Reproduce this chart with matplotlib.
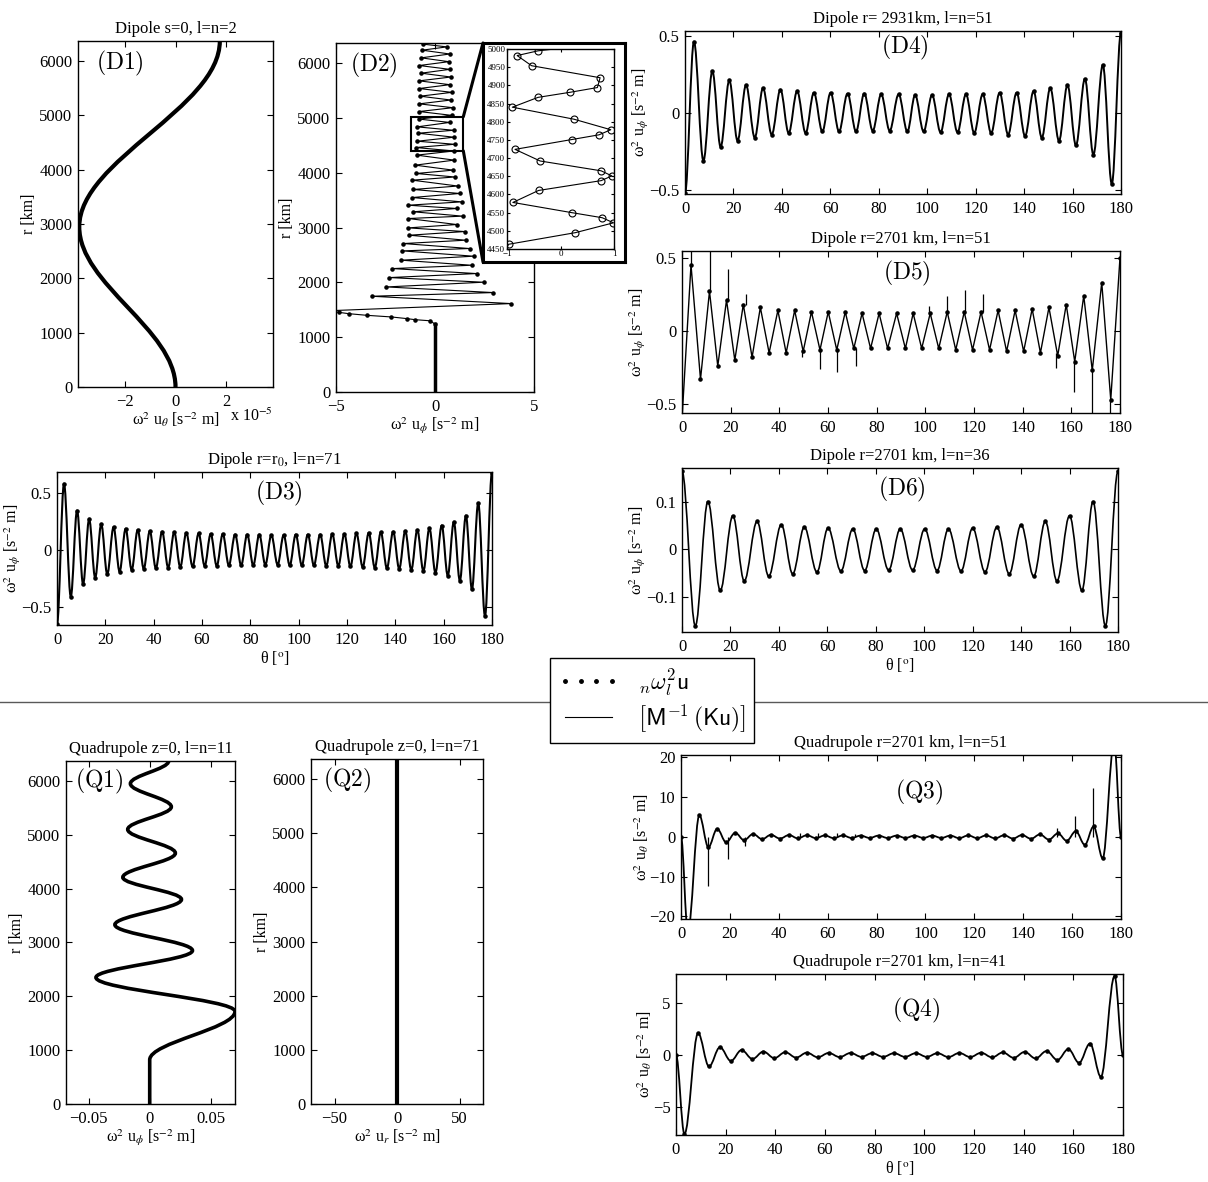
import matplotlib

matplotlib.use("Agg")
import matplotlib.pyplot as plt
import numpy as np
from matplotlib.lines import Line2D
from matplotlib.patches import ConnectionPatch, PathPatch, Rectangle
from matplotlib.path import Path
from matplotlib.ticker import FuncFormatter

# ---------------- data ----------------
# D1: dipole s=0, l=n=2 (u_theta in units of 1e-5), extrema along r
d1_r = [0, 2950, 6371]
d1_u = [0.0, -3.8, 1.75]

# D2: zig-zag samples of u_phi along r
d2_core_r = [0, 1240]
d2_core_u = [0.0, 0.0]
d2_r = [1240, 1300, 1320, 1340, 1370, 1400, 1430, 1455, 1480,
        1614, 1748, 1815, 1918, 2004, 2089, 2162, 2253, 2314, 2406,
        2479, 2576, 2619, 2710, 2771, 2862, 2929, 2996, 3057, 3167,
        3210, 3290, 3350, 3410, 3471, 3550, 3624, 3697, 3760, 3867,
        3925, 3989, 4050, 4141, 4233, 4324, 4400, 4463, 4522, 4578,
        4651, 4724, 4778, 4840, 4921, 4982, 5050, 5120, 5190, 5260,
        5330, 5400, 5470, 5540, 5610, 5680, 5750, 5820, 5890, 5960,
        6030, 6100, 6170, 6240, 6300, 6350]
d2_u = [0.0, -0.25, -1.0, -1.43, -2.2, -3.45, -4.36, -4.87, -5.6,
        3.85, -3.2, 2.95, -2.45, 2.45, -2.3, 2.1, -2.15, 1.85, -1.7,
        1.95, -1.65, 1.75, -1.6, 1.55, -1.3, 1.5, -1.35, 1.1, -1.35,
        1.4, -1.1, 1.1, -1.35, 1.35, -1.15, 1.25, -1.1, 1.15, -1.15,
        1.0, -0.95, 0.92, -1.0, 0.97, -0.92, 0.95, -0.97, 0.99, -0.89,
        0.96, -0.85, 0.94, -0.9, 0.74, -0.81, 0.85, -0.8, 0.9, -0.8,
        0.8, -0.75, 0.85, -0.8, 0.75, -0.8, 0.8, -0.7, 0.75, -0.8,
        0.7, -0.7, 0.75, -0.65, 0.6, -0.6]

# D2 inset samples
ins_r = [4440, 4463, 4495, 4522, 4536, 4550, 4578, 4611, 4638, 4651,
         4665, 4692, 4724, 4751, 4764, 4778, 4807, 4840, 4867, 4881,
         4894, 4921, 4954, 4982, 4995, 5010]
ins_u = [-1.05, -0.97, 0.28, 0.99, 0.78, 0.21, -0.89, -0.41, 0.76, 0.96,
         0.76, -0.38, -0.85, 0.21, 0.72, 0.94, 0.25, -0.9, -0.42, 0.18,
         0.69, 0.74, -0.54, -0.81, -0.42, 0.5]
zoom_u = (-1.21, 1.43)
zoom_r = (4403, 5025)

# D3: dipole r=r0, l=n=71 (extrema in theta)
d3_theta = [0,
            2.9, 5.7, 8.3, 10.8, 13.3, 15.8, 18.3, 20.8, 23.4, 25.9,
            28.4, 30.9, 33.4, 35.9, 38.4, 40.9, 43.5, 46.0, 48.5, 51.0,
            53.5, 56.1, 58.6, 61.1, 63.6, 66.1, 68.6, 71.1, 73.7, 76.2,
            78.7, 81.2, 83.7, 86.2, 88.7,
            91.3, 93.8, 96.3, 98.8, 101.3, 103.8, 106.3, 108.9, 111.4, 113.9,
            116.4, 118.9, 121.4, 123.9, 126.5, 129.0, 131.5, 134.0, 136.5, 139.1,
            141.6, 144.1, 146.6, 149.1, 151.6, 154.1, 156.6, 159.2, 161.7, 164.2,
            166.7, 169.2, 171.7, 174.3, 177.1,
            180]
d3_u = [-0.65,
        0.58, -0.41, 0.345, -0.30, 0.27, -0.245, 0.226, -0.214, 0.2, -0.19,
        0.185, -0.175, 0.175, -0.165, 0.165, -0.16, 0.16, -0.155, 0.155, -0.15,
        0.15, -0.145, 0.145, -0.14, 0.14, -0.14, 0.14, -0.135, 0.135, -0.135,
        0.135, -0.135, 0.135, -0.13, 0.13,
        -0.13, 0.13, -0.135, 0.135, -0.135, 0.135, -0.135, 0.135, -0.14, 0.14,
        -0.14, 0.14, -0.145, 0.145, -0.15, 0.15, -0.155, 0.155, -0.16, 0.16,
        -0.165, 0.165, -0.175, 0.175, -0.185, 0.19, -0.2, 0.214, -0.226, 0.245,
        -0.27, 0.30, -0.345, 0.41, -0.58,
        0.68]

# D4 / D5: l=n=51 (extrema in theta)
theta_l51 = [0, 3.7, 7.6, 11.3, 14.7, 18.3, 21.7, 25.2, 28.8, 32.2,
             35.8, 39.4, 42.8, 46.3, 49.8, 53.2, 56.7, 60.1, 63.6, 67.1,
             70.6, 74.0, 77.5, 81.0, 84.5, 88.2, 91.8, 95.0, 98.5, 102.0,
             105.5, 109.0, 112.5, 116.0, 119.4, 122.9, 126.4, 129.9, 133.4, 136.9,
             140.4, 143.9, 147.3, 150.8, 154.4, 157.9, 161.4, 165.1, 168.6, 172.5,
             176.2, 180]
d4_u = [-0.52, 0.46, -0.31, 0.27, -0.22, 0.21, -0.18, 0.18, -0.16, 0.16,
        -0.14, 0.15, -0.13, 0.14, -0.13, 0.13, -0.12, 0.13, -0.12, 0.125,
        -0.12, 0.125, -0.115, 0.12, -0.115, 0.12, -0.12, 0.115, -0.12, 0.115,
        -0.125, 0.12, -0.125, 0.12, -0.13, 0.12, -0.13, 0.13, -0.14, 0.13,
        -0.15, 0.14, -0.16, 0.16, -0.18, 0.18, -0.21, 0.22, -0.27, 0.31,
        -0.46, 0.52]
d5_u = [-0.6, 0.45, -0.33, 0.27, -0.24, 0.21, -0.2, 0.18, -0.18, 0.16,
        -0.15, 0.14, -0.15, 0.14, -0.14, 0.13, -0.13, 0.13, -0.13, 0.13,
        -0.12, 0.12, -0.12, 0.12, -0.12, 0.12, -0.12, 0.12, -0.12, 0.12,
        -0.12, 0.13, -0.13, 0.13, -0.13, 0.13, -0.13, 0.14, -0.14, 0.14,
        -0.14, 0.15, -0.15, 0.16, -0.17, 0.18, -0.21, 0.24, -0.27, 0.33,
        -0.47, 0.5]
d5_spike_theta = [3.8, 11.4, 19.0, 26.5, 49.2, 56.6, 63.9, 71.6,
                  101.6, 109.1, 116.5, 123.8, 153.7, 161.1, 168.6, 175.9]
d5_spike_base = [0.45, 0.27, 0.21, 0.18, -0.13, -0.12, -0.12, -0.12,
                 0.12, 0.12, 0.12, 0.13, -0.15, -0.2, -0.27, -0.47]
d5_spike_tip = [0.62, 0.6, 0.42, 0.25, -0.18, -0.26, -0.28, -0.24,
                0.17, 0.24, 0.28, 0.25, -0.25, -0.42, -0.6, -0.62]

# D6: l=n=36
d6_theta = [0, 5.5, 10.7, 15.8, 21.0, 25.7, 31.0, 35.8, 41.0, 45.7,
            50.5, 55.7, 60.3, 65.6, 70.5, 75.4, 80.2, 85.3, 90.1, 95.2,
            100.2, 105.3, 110.0, 115.2, 120.0, 125.1, 130.0, 135.1, 140.0, 145.2,
            150.0, 154.8, 160.0, 165.1, 169.7, 174.8, 180]
d6_u = [0.165, -0.162, 0.101, -0.087, 0.071, -0.067, 0.059, -0.057, 0.052, -0.052,
        0.047, -0.048, 0.045, -0.046, 0.043, -0.045, 0.043, -0.044, 0.043, -0.044,
        0.043, -0.045, 0.043, -0.046, 0.045, -0.048, 0.047, -0.052, 0.052, -0.057,
        0.059, -0.067, 0.071, -0.087, 0.101, -0.162, 0.165]

# Q1: quadrupole z=0, l=n=11 (extrema along r)
q1_r = [0, 820, 1720, 2350, 2850, 3330, 3800, 4210, 4660, 5100, 5520, 5950, 6371]
q1_u = [0.0, 0.0, 0.0698, -0.044, 0.035, -0.0285, 0.026, -0.022, 0.021,
        -0.018, 0.0177, -0.0158, 0.0155]

# Q2: quadrupole z=0, l=n=71
q2_r = [0, 6371]
q2_u = [0.0, 0.0]

# Q3: quadrupole r=2701 km, l=n=51
q3_theta = [0, 2.8,
            7.5, 11.2, 14.8, 18.5, 22.2, 25.8, 29.5, 33.2, 36.8, 40.5,
            44.2, 47.8, 51.5, 55.2, 58.8, 62.5, 66.2, 69.8, 73.5, 77.2,
            80.8, 84.5, 88.2,
            91.8, 95.5, 99.2, 102.8, 106.5, 110.2, 113.8, 117.5, 121.2, 124.8,
            128.5, 132.2, 135.8, 139.5, 143.2, 146.8, 150.5, 154.2, 157.8, 161.5,
            165.2, 168.8, 172.5,
            177.2, 180]
q3_u = [0.0, -24.0,
        5.4, -2.6, 2.0, -1.4, 1.0, -0.85, 0.7, -0.6, 0.5, -0.45,
        0.45, -0.4, 0.4, -0.35, 0.35, -0.35, 0.35, -0.3, 0.3, -0.3,
        0.3, -0.3, 0.3,
        -0.3, 0.3, -0.3, 0.3, -0.3, 0.3, -0.35, 0.35, -0.35, 0.35,
        -0.4, 0.4, -0.45, 0.45, -0.5, 0.6, -0.7, 0.85, -1.0, 1.4,
        -2.0, 2.6, -5.4,
        24.0, 0.0]
q3_spike_theta = [11.2, 19.1, 26.2, 48.7, 56.2, 63.7, 71.2, 154.0, 161.2, 168.4]
q3_spike_tip = [-12.3, -5.5, -2.3, 1.0, 1.0, 1.0, 0.8, 2.3, 5.3, 12.3]

# Q4: quadrupole r=2701 km, l=n=41
q4_theta = [0, 3.4,
            8.9, 13.3, 17.7, 22.1, 26.4, 30.8, 35.2, 39.6, 44.0, 48.4,
            52.7, 57.1, 61.5, 65.9, 70.3, 74.7, 79.0, 83.4, 87.8,
            92.2, 96.6, 101.0, 105.3, 109.7, 114.1, 118.5, 122.9, 127.3, 131.6,
            136.0, 140.4, 144.8, 149.2, 153.6, 158.0, 162.3, 166.7, 171.1,
            176.6, 180]
q4_u = [0.0, -7.6,
        2.1, -1.1, 0.75, -0.57, 0.48, -0.38, 0.33, -0.3, 0.27, -0.25,
        0.23, -0.22, 0.2, -0.2, 0.2, -0.18, 0.18, -0.18, 0.18,
        -0.18, 0.18, -0.18, 0.18, -0.2, 0.2, -0.2, 0.22, -0.23, 0.25,
        -0.27, 0.3, -0.33, 0.38, -0.48, 0.57, -0.75, 1.1, -2.1,
        7.6, 0.0]

# ---------------- style ----------------
plt.rcParams.update({
    "font.family": "Liberation Serif",
    "mathtext.fontset": "stix",
    "font.size": 11.5,
    "axes.linewidth": 1.0,
    "xtick.direction": "in",
    "ytick.direction": "in",
    "xtick.top": True,
    "ytick.right": True,
    "xtick.major.size": 4,
    "ytick.major.size": 4,
    "xtick.major.pad": 5,
    "ytick.major.pad": 4,
    "xtick.labelsize": 12,
    "ytick.labelsize": 12,
})

W, H = 1208, 1182
fig = plt.figure(figsize=(W / 100, H / 100), dpi=100)


def box(l, t, r, b):
    return [l / W, 1 - b / H, (r - l) / W, (b - t) / H]


minus_fmt = FuncFormatter(lambda v, p: f"{v:g}".replace("-", "\u2212"))


def smooth_curve(ax, x, y, lw=1.0, swap=False, k=0.36):
    """Cubic Bezier through the extrema with flat tangents at each node."""
    verts = [(x[0], y[0])]
    codes = [Path.MOVETO]
    for x0, y0, x1, y1 in zip(x[:-1], y[:-1], x[1:], y[1:]):
        d = (x1 - x0) * k
        verts += [(x0 + d, y0), (x1 - d, y1), (x1, y1)]
        codes += [Path.CURVE4] * 3
    verts = np.array(verts, dtype=float)
    if swap:
        verts = verts[:, ::-1]
    ax.add_patch(PathPatch(Path(verts, codes), fill=False, ec="k", lw=lw))


def panel_label(ax, text, x, y, ha="left"):
    ax.text(x, y, rf"$\mathrm{{({text})}}$", transform=ax.transAxes, fontsize=17,
            math_fontfamily="cm", ha=ha, va="center", zorder=6)


def theta_panel(ax, theta, vals, ylim, yticks, smooth=True, lw=1.0, ms=4.5):
    if smooth:
        smooth_curve(ax, theta, vals, lw=lw)
    else:
        ax.plot(theta, vals, color="k", lw=lw)
    ax.plot(theta, vals, ls="none", marker=".", ms=ms, color="k")
    ax.set_xlim(0, 180)
    ax.set_xticks(range(0, 181, 20))
    ax.set_ylim(*ylim)
    ax.set_yticks(yticks)
    ax.yaxis.set_major_formatter(minus_fmt)


def r_panel(ax, xlim, xticks):
    ax.set_ylim(0, 6371)
    ax.set_yticks(range(0, 6001, 1000))
    ax.set_xlim(*xlim)
    ax.set_xticks(xticks)
    ax.xaxis.set_major_formatter(minus_fmt)
    ax.set_ylabel("r [km]", labelpad=2)


lab_uth = "ω$^2$ u$_\\theta$ [s$^{-2}$ m]"
lab_uph = "ω$^2$ u$_\\phi$ [s$^{-2}$ m]"
lab_ur = "ω$^2$ u$_r$ [s$^{-2}$ m]"
lab_th = "θ [$^{\\mathrm{o}}$]"
TPAD = 6
TFS = 12
YPAD = -1

# ---- D1
ax = fig.add_axes(box(78, 41, 273, 387))
smooth_curve(ax, d1_r, d1_u, lw=3.0, swap=True)
r_panel(ax, (-3.85, 3.85), [-2, 0, 2])
ax.set_xlabel(lab_uth, labelpad=0)
ax.set_title("Dipole s=0, l=n=2", fontsize=TFS, pad=TPAD)
ax.text(1.0, -0.06, "x 10$^{-5}$", transform=ax.transAxes, ha="right", va="top")
panel_label(ax, "D1", 0.09, 0.935)

# ---- D2
ax2 = fig.add_axes(box(336, 43, 534, 392))
ax2.plot(d2_core_u, d2_core_r, color="k", lw=2.5)
ax2.plot(d2_u, d2_r, color="k", lw=0.8, marker=".", ms=4.5)
r_panel(ax2, (-5, 5), [-5, 0, 5])
ax2.set_xlabel(lab_uph, labelpad=0)
ax2.add_patch(Rectangle((zoom_u[0], zoom_r[0]), zoom_u[1] - zoom_u[0],
                        zoom_r[1] - zoom_r[0], fill=False, ec="k", lw=1.5, zorder=5))
panel_label(ax2, "D2", 0.07, 0.937)

frame = fig.add_axes(box(483, 43, 625, 262), zorder=3)
frame.set_xticks([])
frame.set_yticks([])
for s in frame.spines.values():
    s.set_linewidth(2.2)

ins = fig.add_axes(box(507, 49, 614, 249), zorder=4)
ins.plot(ins_u, ins_r, color="k", lw=0.8, marker="o", ms=5, mfc="none", mew=0.8)
ins.set_xlim(-1, 1)
ins.set_ylim(4450, 5000)
ins.set_xticks([-1, 0, 1])
ins.set_yticks(range(4450, 5001, 50))
ins.xaxis.set_major_formatter(minus_fmt)
ins.tick_params(axis="y", labelsize=6.5, length=2.5, pad=1.2)
ins.tick_params(axis="x", labelsize=6.5, length=2.5, pad=0.5)

for ya, yb in ((zoom_r[1], 1), (zoom_r[0], 0)):
    con = ConnectionPatch(xyA=(zoom_u[1], ya), coordsA=ax2.transData,
                          xyB=(0, yb), coordsB=frame.transAxes, lw=2.2, color="k")
    fig.add_artist(con)

# ---- D3
ax = fig.add_axes(box(57, 472, 492, 625))
theta_panel(ax, d3_theta, d3_u, (-0.66, 0.685), [-0.5, 0, 0.5], lw=1.5)
ax.set_ylabel(lab_uph, labelpad=YPAD)
ax.set_xlabel(lab_th, labelpad=1)
ax.set_title("Dipole r=r$_0$, l=n=71", fontsize=TFS, pad=TPAD)
panel_label(ax, "D3", 0.51, 0.863, ha="center")

# ---- D4
ax = fig.add_axes(box(685, 31, 1121, 194))
theta_panel(ax, theta_l51, d4_u, (-0.525, 0.53), [-0.5, 0, 0.5], lw=1.4)
ax.set_ylabel(lab_uph, labelpad=YPAD)
ax.set_title("Dipole r= 2931km, l=n=51", fontsize=TFS, pad=TPAD)
panel_label(ax, "D4", 0.505, 0.90, ha="center")

# ---- D5
ax = fig.add_axes(box(682, 251, 1120, 413))
theta_panel(ax, theta_l51, d5_u, (-0.56, 0.545), [-0.5, 0, 0.5], smooth=False, lw=1.0)
ax.vlines(d5_spike_theta, d5_spike_base, d5_spike_tip, color="k", lw=0.9)
ax.set_ylabel(lab_uph, labelpad=YPAD)
ax.set_title("Dipole r=2701 km, l=n=51", fontsize=TFS, pad=TPAD)
panel_label(ax, "D5", 0.514, 0.864, ha="center")

# ---- D6
ax = fig.add_axes(box(682, 468, 1118, 632))
theta_panel(ax, d6_theta, d6_u, (-0.175, 0.172), [-0.1, 0, 0.1], lw=1.2)
ax.set_ylabel(lab_uph, labelpad=YPAD)
ax.set_xlabel(lab_th, labelpad=1)
ax.set_title("Dipole r=2701 km, l=n=36", fontsize=TFS, pad=TPAD)
panel_label(ax, "D6", 0.505, 0.872, ha="center")

# ---- Q1
ax = fig.add_axes(box(66, 761, 235, 1104))
smooth_curve(ax, q1_r, q1_u, lw=2.6, swap=True)
r_panel(ax, (-0.0685, 0.0698), [-0.05, 0, 0.05])
ax.set_xlabel(lab_uph, labelpad=0)
ax.set_title("Quadrupole z=0, l=n=11", fontsize=TFS, pad=TPAD)
panel_label(ax, "Q1", 0.053, 0.939)

# ---- Q2
ax = fig.add_axes(box(311, 759, 483, 1104))
ax.plot(q2_u, q2_r, color="k", lw=3.0)
r_panel(ax, (-68.8, 68.7), [-50, 0, 50])
ax.set_xlabel(lab_ur, labelpad=0)
ax.set_title("Quadrupole z=0, l=n=71", fontsize=TFS, pad=TPAD)
panel_label(ax, "Q2", 0.07, 0.939)

# ---- Q3
ax = fig.add_axes(box(681, 755, 1121, 919))
theta_panel(ax, q3_theta, q3_u, (-20.7, 20.6), [-20, -10, 0, 10, 20], lw=1.3)
ax.vlines(q3_spike_theta, 0, q3_spike_tip, color="k", lw=0.9)
ax.set_ylabel(lab_uth, labelpad=YPAD)
ax.set_title("Quadrupole r=2701 km, l=n=51", fontsize=TFS, pad=TPAD)
panel_label(ax, "Q3", 0.541, 0.774, ha="center")

# ---- Q4
ax = fig.add_axes(box(676, 974, 1123, 1135))
theta_panel(ax, q4_theta, q4_u, (-7.7, 7.8), [-5, 0, 5], lw=1.3)
ax.set_ylabel(lab_uth, labelpad=YPAD)
ax.set_xlabel(lab_th, labelpad=1)
ax.set_title("Quadrupole r=2701 km, l=n=41", fontsize=TFS, pad=TPAD)
panel_label(ax, "Q4", 0.537, 0.776, ha="center")

# ---- separator and shared legend
fig.add_artist(Line2D([0, 1], [1 - 702 / H] * 2, transform=fig.transFigure,
                      color="0.35", lw=1.0, zorder=1))
handles = [Line2D([], [], ls="none", marker=".", ms=5, color="k"),
           Line2D([], [], color="k", lw=0.8)]
labels = [r"${}_{n}\omega_{l}^{2}\mathsf{u}$",
          r"$\left[\mathsf{M}^{-1}\,(\mathsf{Ku})\right]$"]
leg = fig.legend(handles, labels, loc="center",
                 bbox_to_anchor=(652 / W, 1 - 700.5 / H), numpoints=4,
                 fontsize=17, frameon=True, fancybox=False, edgecolor="k",
                 framealpha=1, handlelength=2.6, borderpad=0.35,
                 labelspacing=0.2, handletextpad=0.8)
leg.get_frame().set_linewidth(1.0)
for t in leg.get_texts():
    t.set_math_fontfamily("cm")

fig.savefig("out.png", dpi=100)
